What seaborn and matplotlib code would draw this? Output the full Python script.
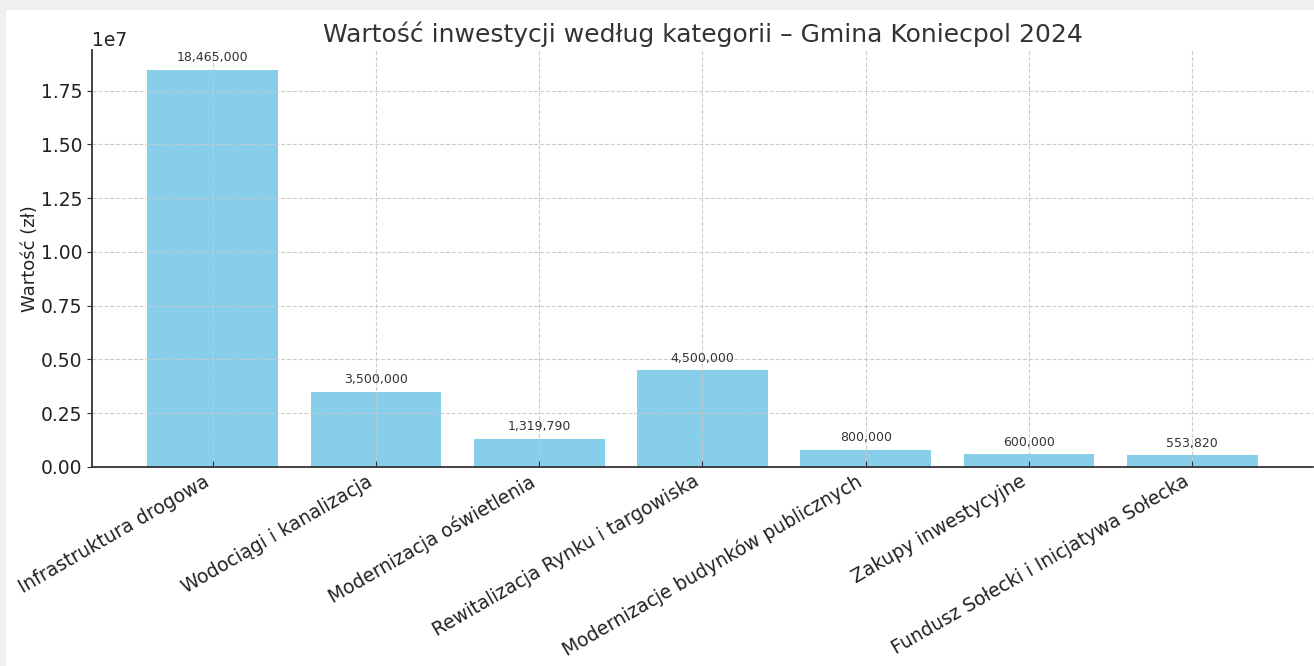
import matplotlib
matplotlib.use('Agg')
import matplotlib.pyplot as plt
import seaborn as sns
import pandas as pd
from matplotlib.patches import Rectangle

# data
kategorie = ['Infrastruktura drogowa', 'Wodociągi i kanalizacja', 'Modernizacja oświetlenia',
             'Rewitalizacja Rynku i targowiska', 'Modernizacje budynków publicznych',
             'Zakupy inwestycyjne', 'Fundusz Sołecki i Inicjatywa Sołecka']
wartosci = [18465000, 3500000, 1319790, 4500000, 800000, 600000, 553820]

df = pd.DataFrame({'Kategoria': kategorie, 'Wartosc': wartosci})

plt.rcParams['font.family'] = ['DejaVu Sans']
plt.rcParams['axes.axisbelow'] = 'line'

fig = plt.figure(figsize=(13.14, 6.66), dpi=100)
fig.patch.set_facecolor('#f0f0f0')
# white card, gray strip on top and left like the screenshot
fig.patches.append(Rectangle((6 / 1314, 0), 1, 1 - 10 / 666, transform=fig.transFigure,
                             facecolor='white', edgecolor='none', zorder=-10))

ax = fig.add_axes([92 / 1314, 1 - 467 / 666, (1313 - 92) / 1314, (467 - 50) / 666])
ax.set_facecolor('white')

sns.barplot(data=df, x='Kategoria', y='Wartosc', color='#87CEEB', saturation=1,
            width=0.8, ax=ax)

for i, v in enumerate(df['Wartosc']):
    ax.annotate(f'{v:,}', (i, v), xytext=(0, 4), textcoords='offset points',
                ha='center', va='bottom', fontsize=9, color='#333333')

ax.set_title('Wartość inwestycji według kategorii – Gmina Koniecpol 2024',
             fontsize=18, color='#333333', pad=6)
ax.set_xlabel('')
ax.set_ylabel('Wartość (zł)', fontsize=13, color='#222222', labelpad=1)
ax.grid(True, linestyle='--', color='#c8c8c8', linewidth=0.8, alpha=0.9)

ax.set_xlim(-0.74, 6.74)
ax.set_ylim(0, 18465000 * 1.05)
ax.set_xticks(range(len(kategorie)))
ax.set_xticklabels(kategorie, rotation=30, ha='right', fontsize=13.5, color='#222222')
ax.tick_params(axis='y', labelsize=13.5, labelcolor='#222222', color='#333333')
ax.tick_params(axis='x', direction='in', length=4, color='#333333')
ax.yaxis.get_offset_text().set_fontsize(13.5)

for s in ['top', 'right']:
    ax.spines[s].set_visible(False)
for s in ['left', 'bottom']:
    ax.spines[s].set_color('#333333')
    ax.spines[s].set_linewidth(1.3)

fig.savefig('out.png', dpi=100, facecolor=fig.get_facecolor())
